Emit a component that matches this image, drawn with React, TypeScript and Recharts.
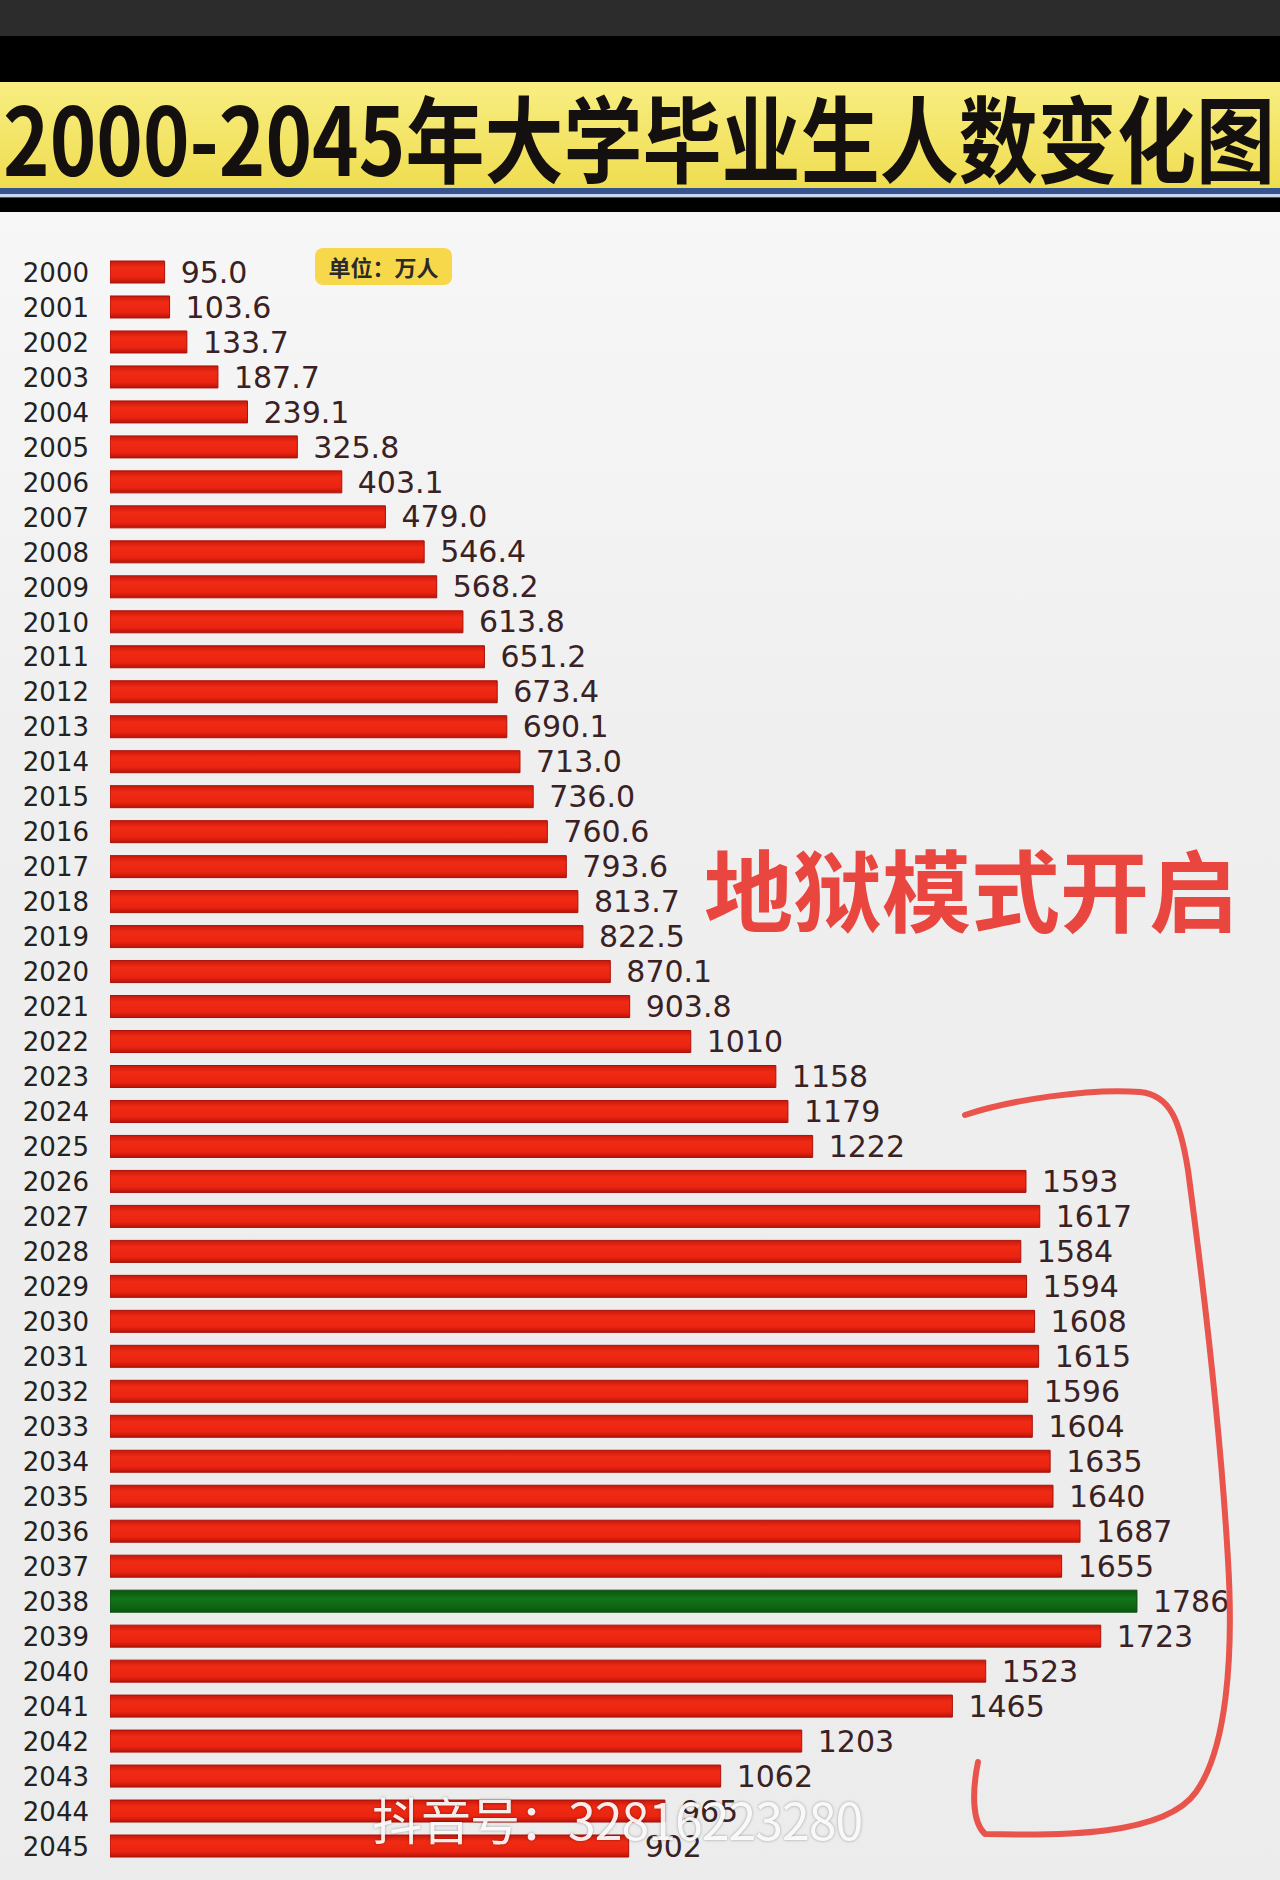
import { BarChart, Bar, XAxis, YAxis, LabelList, Cell } from "recharts";

// 2000-2045 graduates, unit: 万人
const years = [
  "2000", "2001", "2002", "2003", "2004", "2005", "2006", "2007", "2008", "2009",
  "2010", "2011", "2012", "2013", "2014", "2015", "2016", "2017", "2018", "2019",
  "2020", "2021", "2022", "2023", "2024", "2025", "2026", "2027", "2028", "2029",
  "2030", "2031", "2032", "2033", "2034", "2035", "2036", "2037", "2038", "2039",
  "2040", "2041", "2042", "2043", "2044", "2045",
];

const graduates = [
  95.0, 103.6, 133.7, 187.7, 239.1, 325.8, 403.1, 479.0, 546.4, 568.2,
  613.8, 651.2, 673.4, 690.1, 713.0, 736.0, 760.6, 793.6, 813.7, 822.5,
  870.1, 903.8, 1010, 1158, 1179, 1222, 1593, 1617, 1584, 1594,
  1608, 1615, 1596, 1604, 1635, 1640, 1687, 1655, 1786, 1723,
  1523, 1465, 1203, 1062, 965, 902,
];

const peakYear = "2038";
// from this year on the labels are whole numbers
const integerFrom = 2022;
const xDomain = [0, 2000];

const title = "2000-2045年大学毕业生人数变化图";
const unitText = "单位：万人";
const callout = "地狱模式开启";
const watermark = "抖音号：32816223280";

const data = years.map((year, i) => ({
  year,
  value: graduates[i],
  label: Number(year) >= integerFrom ? String(graduates[i]) : graduates[i].toFixed(1),
}));

export default function App() {
  return (
    <div
      style={{
        position: "absolute",
        left: 0,
        top: 0,
        width: 1280,
        height: 1880,
        overflow: "hidden",
        background: "linear-gradient(#fafafa, #efefef 40%, #ececec)",
        fontFamily: "'DejaVu Sans', sans-serif",
      }}
    >
      {/* title banner */}
      <svg width={1280} height={212} style={{ position: "absolute", left: 0, top: 0 }}>
        <defs>
          <linearGradient id="banner" x1="0" y1="0" x2="0" y2="1">
            <stop offset="0%" stopColor="#f8ee82" />
            <stop offset="100%" stopColor="#efdc4e" />
          </linearGradient>
        </defs>
        <rect x={0} y={0} width={1280} height={212} fill="#000" />
        <rect x={0} y={0} width={1280} height={36} fill="#2c2c2c" />
        <rect x={0} y={82} width={1280} height={110} fill="url(#banner)" />
        <rect x={0} y={188} width={1280} height={10} fill="#34538f" />
        <rect x={0} y={194} width={1280} height={3} fill="#c9d6ee" />
        <text
          x={3}
          y={176}
          fontSize={94}
          fontWeight={700}
          fill="#141010"
          textLength={1272}
          lengthAdjust="spacingAndGlyphs"
          style={{ fontFamily: "'Noto Sans CJK SC', sans-serif" }}
        >
          {title}
        </text>
      </svg>

      {/* chart */}
      <div style={{ position: "absolute", left: 0, top: 0 }}>
        <BarChart
          width={1280}
          height={1880}
          data={data}
          layout="vertical"
          margin={{ top: 255, right: 20, bottom: 16, left: 0 }}
        >
          <defs>
            <linearGradient id="redBar" x1="0" y1="0" x2="0" y2="1">
              <stop offset="0%" stopColor="#c8180c" />
              <stop offset="30%" stopColor="#f02b14" />
              <stop offset="75%" stopColor="#ea2410" />
              <stop offset="100%" stopColor="#b8130a" />
            </linearGradient>
            <linearGradient id="greenBar" x1="0" y1="0" x2="0" y2="1">
              <stop offset="0%" stopColor="#0a560e" />
              <stop offset="40%" stopColor="#137418" />
              <stop offset="100%" stopColor="#0a5a0e" />
            </linearGradient>
          </defs>
          <XAxis type="number" domain={xDomain} hide allowDataOverflow />
          <YAxis
            type="category"
            dataKey="year"
            width={110}
            axisLine={false}
            tickLine={false}
            tickSize={0}
            tickMargin={21}
            interval={0}
            tick={{ fill: "#222", fontSize: 26, fontFamily: "'DejaVu Sans', sans-serif" }}
          />
          <Bar dataKey="value" barSize={22} isAnimationActive={false} strokeWidth={1}>
            {data.map((d) => (
              <Cell
                key={d.year}
                fill={d.year === peakYear ? "url(#greenBar)" : "url(#redBar)"}
                stroke={d.year === peakYear ? "#0a4a0c" : "#a8120a"}
              />
            ))}
            <LabelList
              dataKey="label"
              position="right"
              offset={16}
              style={{ fill: "#3a2224", fontSize: 30, fontFamily: "'DejaVu Sans', sans-serif" }}
            />
          </Bar>
        </BarChart>
      </div>

      {/* unit badge */}
      <div
        style={{
          position: "absolute",
          left: 315,
          top: 248,
          width: 137,
          height: 37,
          borderRadius: 8,
          background: "#f6d84a",
          color: "#2a2a2a",
          fontFamily: "'Noto Sans CJK SC', sans-serif",
          fontWeight: 700,
          fontSize: 22,
          lineHeight: "37px",
          textAlign: "center",
        }}
      >
        {unitText}
      </div>

      {/* callout */}
      <div
        style={{
          position: "absolute",
          left: 704,
          top: 832,
          fontFamily: "'Noto Sans CJK SC', sans-serif",
          fontWeight: 700,
          fontSize: 89,
          lineHeight: "110px",
          color: "#e8463e",
          whiteSpace: "nowrap",
        }}
      >
        {callout}
      </div>

      {/* hand drawn bracket */}
      <svg width={1280} height={1880} style={{ position: "absolute", left: 0, top: 0, pointerEvents: "none" }}>
        <path
          d="M 965 1115 C 1010 1100, 1090 1088, 1140 1092 C 1170 1095, 1180 1120, 1188 1170 C 1200 1260, 1220 1420, 1228 1560 C 1234 1660, 1226 1750, 1196 1792 C 1165 1836, 1060 1836, 985 1834 C 972 1822, 972 1792, 978 1762"
          fill="none"
          stroke="#e8443a"
          strokeWidth={6}
          strokeLinecap="round"
          strokeLinejoin="round"
          opacity={0.9}
        />
      </svg>

      {/* watermark */}
      <div
        style={{
          position: "absolute",
          left: 372,
          top: 1788,
          fontFamily: "'Noto Sans CJK SC', sans-serif",
          fontSize: 50,
          lineHeight: "60px",
          color: "rgba(255,255,255,0.92)",
          textShadow: "0 0 3px rgba(0,0,0,0.35)",
          whiteSpace: "nowrap",
          letterSpacing: -1,
        }}
      >
        {watermark}
      </div>
    </div>
  );
}
